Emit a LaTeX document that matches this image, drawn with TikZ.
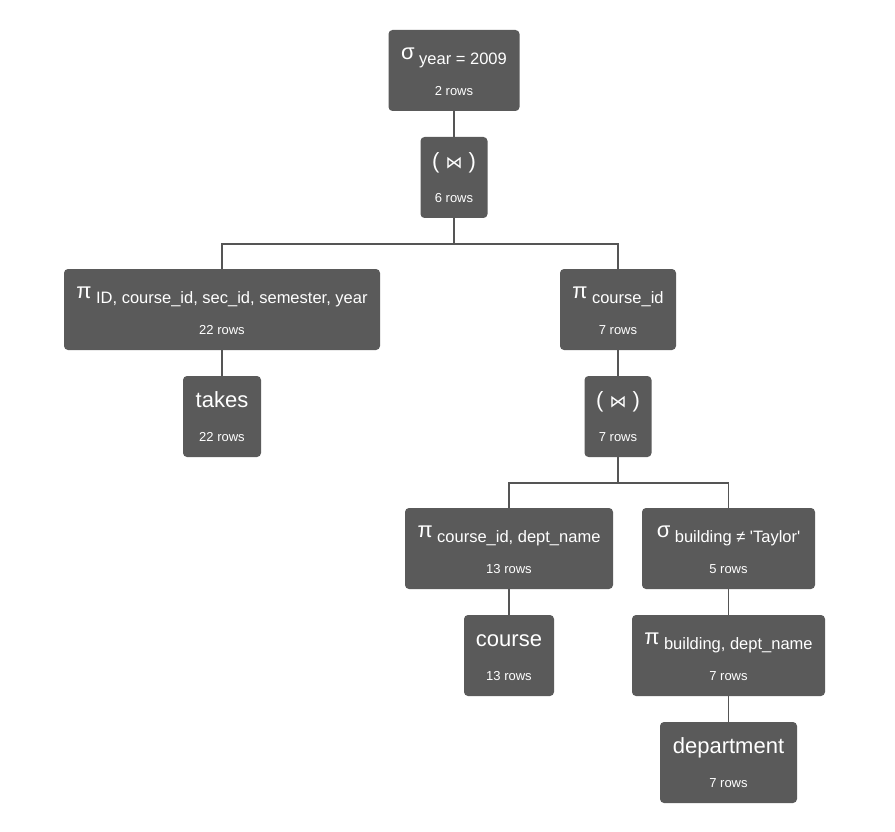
\documentclass[tikz,border=0pt]{standalone}
\usepackage{fontspec}
\setmainfont{Liberation Sans}[Ligatures=TeXOff]
\newfontfamily\joinfont{DejaVu Sans}
\definecolor{boxgray}{HTML}{5A5A5A}
\definecolor{linegray}{HTML}{555555}

% operator title: symbol with lowered subscript
\newcommand\opname[2]{\rule{0pt}{20pt}{\fontsize{22}{26}\selectfont\raisebox{2pt}{#1}}\hspace{4.5pt}\raisebox{-3pt}{\fontsize{16.5}{19}\selectfont #2}}
% plain title (relation names, joins)
\newcommand\relname[1]{\rule{0pt}{20pt}{\fontsize{22}{26}\selectfont #1}}
% row count line
\newcommand\nrows[1]{\rule[-4pt]{0pt}{4pt}{\fontsize{13}{15}\selectfont #1 rows}}
\newcommand\joinsym{( {\joinfont\fontsize{17}{20}\selectfont ⋈} )}

\begin{document}
\begin{tikzpicture}[x=1pt, y=1pt,
    opbox/.style={rectangle, rounded corners=4pt, fill=boxgray, text=white,
                  align=center, inner sep=0pt, minimum height=81pt,
                  font=\fontsize{13}{31}\selectfont},
    link/.style={draw=linegray, line width=1.5pt}
]

\fill[white] (0,0) rectangle (895,-832);
\useasboundingbox (0,0) rectangle (895,-832);

%% Nodes at absolute coordinates %%

% Top of the tree
\node[opbox, minimum width=131pt] (sel)   at (454,-70.5)  {\opname{σ}{year = 2009} \\[3pt] \nrows{2}};
\node[opbox, minimum width=67pt]  (join1) at (454,-177.5) {\relname{\joinsym} \\[3pt] \nrows{6}};

% Left branch
\node[opbox, minimum width=316pt] (projL) at (222,-309.5) {\opname{π}{ID, course\_id, sec\_id, semester, year} \\[3pt] \nrows{22}};
\node[opbox, minimum width=78pt]  (takes) at (222,-416.5) {\relname{takes} \\[3pt] \nrows{22}};

% Right branch
\node[opbox, minimum width=116pt] (projR) at (618,-309.5) {\opname{π}{course\_id} \\[3pt] \nrows{7}};
\node[opbox, minimum width=67pt]  (join2) at (618,-416.5) {\relname{\joinsym} \\[3pt] \nrows{7}};

% Under the second join
\node[opbox, minimum width=208pt] (projC)  at (509,-548.5)   {\opname{π}{course\_id, dept\_name} \\[3pt] \nrows{13}};
\node[opbox, minimum width=90pt]  (course) at (509,-655.5)   {\relname{course} \\[3pt] \nrows{13}};
\node[opbox, minimum width=173pt] (selB)   at (728.5,-548.5) {\opname{σ}{building ≠ 'Taylor'} \\[3pt] \nrows{5}};
\node[opbox, minimum width=193pt] (projB)  at (728.5,-655.5) {\opname{π}{building, dept\_name} \\[3pt] \nrows{7}};
\node[opbox, minimum width=137pt] (dept)   at (728.5,-762.5) {\relname{department} \\[3pt] \nrows{7}};

%% Connectors %%

\draw[link] (sel.south) -- (join1.north);
\draw[link] (join1.south) -- ++(0,-26) -| (projL.north);
\draw[link] (join1.south) -- ++(0,-26) -| (projR.north);
\draw[link] (projL.south) -- (takes.north);
\draw[link] (projR.south) -- (join2.north);
\draw[link] (join2.south) -- ++(0,-26) -| (projC.north);
\draw[link] (join2.south) -- ++(0,-26) -| (selB.north);
\draw[link] (projC.south) -- (course.north);
\draw[link] (selB.south) -- (projB.north);
\draw[link] (projB.south) -- (dept.north);

\end{tikzpicture}
\end{document}
